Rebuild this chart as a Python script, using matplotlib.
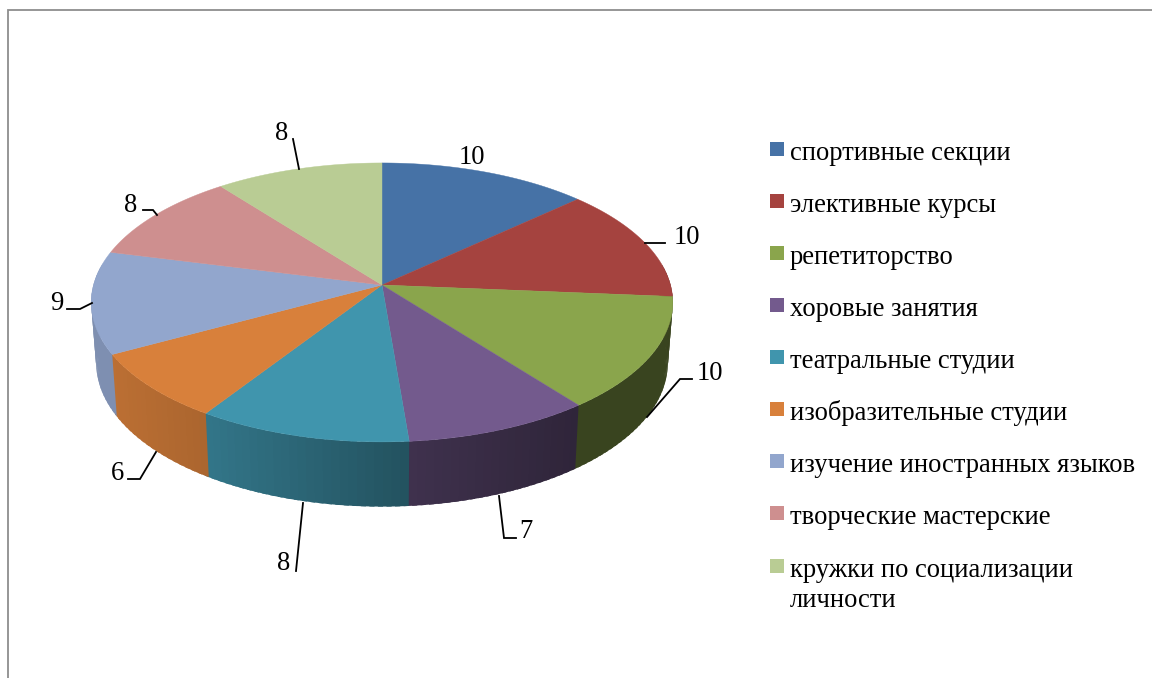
import numpy as np
import matplotlib
matplotlib.use("Agg")
import matplotlib.pyplot as plt
from matplotlib.patches import Polygon, Rectangle

categories = ["спортивные секции", "элективные курсы", "репетиторство",
              "хоровые занятия", "театральные студии", "изобразительные студии",
              "изучение иностранных языков", "творческие мастерские",
              "кружки по социализации\nличности"]
values = [10, 10, 10, 7, 8, 6, 9, 8, 8]
colors = ["#4672A6", "#A5433F", "#8AA54C", "#735A8D", "#4095AD",
          "#D8803B", "#92A6CD", "#CE8F8F", "#B9CC94"]

plt.rcParams["font.family"] = ["Liberation Serif", "DejaVu Serif"]
FS = 19.2

fig = plt.figure(figsize=(11.52, 6.78), dpi=100)
ax = fig.add_axes([0, 0, 1, 1])
ax.set_xlim(0, 1152)
ax.set_ylim(678, 0)
ax.axis("off")

CX, CY, RX, RY, K = 382.0, 285.0, 288.5, 137.3, 0.125


def top(theta):
    X, Y = np.sin(theta), np.cos(theta)
    w = 1 + K * Y
    return CX + RX * X / w, CY - RY * Y / w


def bottom(theta):
    x, y = top(theta)
    return CX + (x - CX) * 0.983, CY + 60 + (y - CY) * 1.03


def shade(x):
    return np.interp(x, [90, 116, 208, 408, 575, 675],
                     [0.86, 0.865, 0.79, 0.55, 0.41, 0.41])


def darker(c, f):
    return tuple(v * f for v in matplotlib.colors.to_rgb(c))


edges = np.cumsum([0] + values) / sum(values) * 2 * np.pi

# side wall: each facet overlaps the next so no seams show; the top face covers the rest
for i, c in enumerate(colors):
    t = np.linspace(edges[i], edges[i + 1], max(int((edges[i + 1] - edges[i]) * 40), 2))
    step = t[1] - t[0]
    for a, b in zip(t[:-1], t[1:]):
        if np.cos((a + b) / 2) > 0.15:
            continue
        e = b + step * 0.6
        xa, ya = top(a); xb, yb = top(e)
        xc, yc = bottom(e); xd, yd = bottom(a)
        mx = (top(a)[0] + top(b)[0] + bottom(a)[0] + bottom(b)[0]) / 4
        col = darker(c, shade(mx))
        ax.add_patch(Polygon([(xa, ya), (xb, yb), (xc, yc), (xd, yd)],
                             closed=True, facecolor=col, edgecolor="none", lw=0))

# top face
for i, c in enumerate(colors):
    t = np.linspace(edges[i], edges[i + 1], 90)
    px, py = top(t)
    pts = np.column_stack([np.r_[CX, px], np.r_[CY, py]])
    ax.add_patch(Polygon(pts, closed=True, facecolor=c, edgecolor=c, lw=0.3))

# data labels with leader lines (pixel layout)
label_layout = [
    ((472, 158), None),
    ((687, 237), [(645, 243), (665, 243)]),
    ((710, 373), [(647, 417), (680, 379), (692, 379)]),
    ((526, 532), [(499, 496), (504, 538), (516, 538)]),
    ((284, 563), [(303, 503), (296, 571)]),
    ((117, 474), [(156, 452), (140, 479), (128, 479)]),
    ((57, 303), [(92, 303), (80, 309), (67, 309)]),
    ((131, 205), [(157, 215), (153, 210), (143, 210)]),
    ((282, 133), [(299, 169), (293, 139)]),
]
for v, (pos, leader) in zip(values, label_layout):
    ax.text(pos[0], pos[1], str(v), ha="center", va="center", fontsize=FS, color="black")
    if leader:
        xs, ys = zip(*leader)
        ax.plot(xs, ys, color="black", lw=1.3, solid_joinstyle="miter")

# legend
for i, (name, c) in enumerate(zip(categories, colors)):
    y = 142 + 52 * i + (1 if i == 8 else 0)
    ax.add_patch(Rectangle((770, y), 14, 14, facecolor=c, edgecolor="none"))
    lines = name.split("\n")
    for j, line in enumerate(lines):
        ax.text(790, y + 18 + 30 * j, line, ha="left", va="baseline", fontsize=FS, color="black")

# frame
ax.plot([7.8, 7.8, 1152], [678, 9.5, 9.5], color="#8E8E8E", lw=1.3, solid_joinstyle="miter")

fig.savefig("out.png", dpi=100)
